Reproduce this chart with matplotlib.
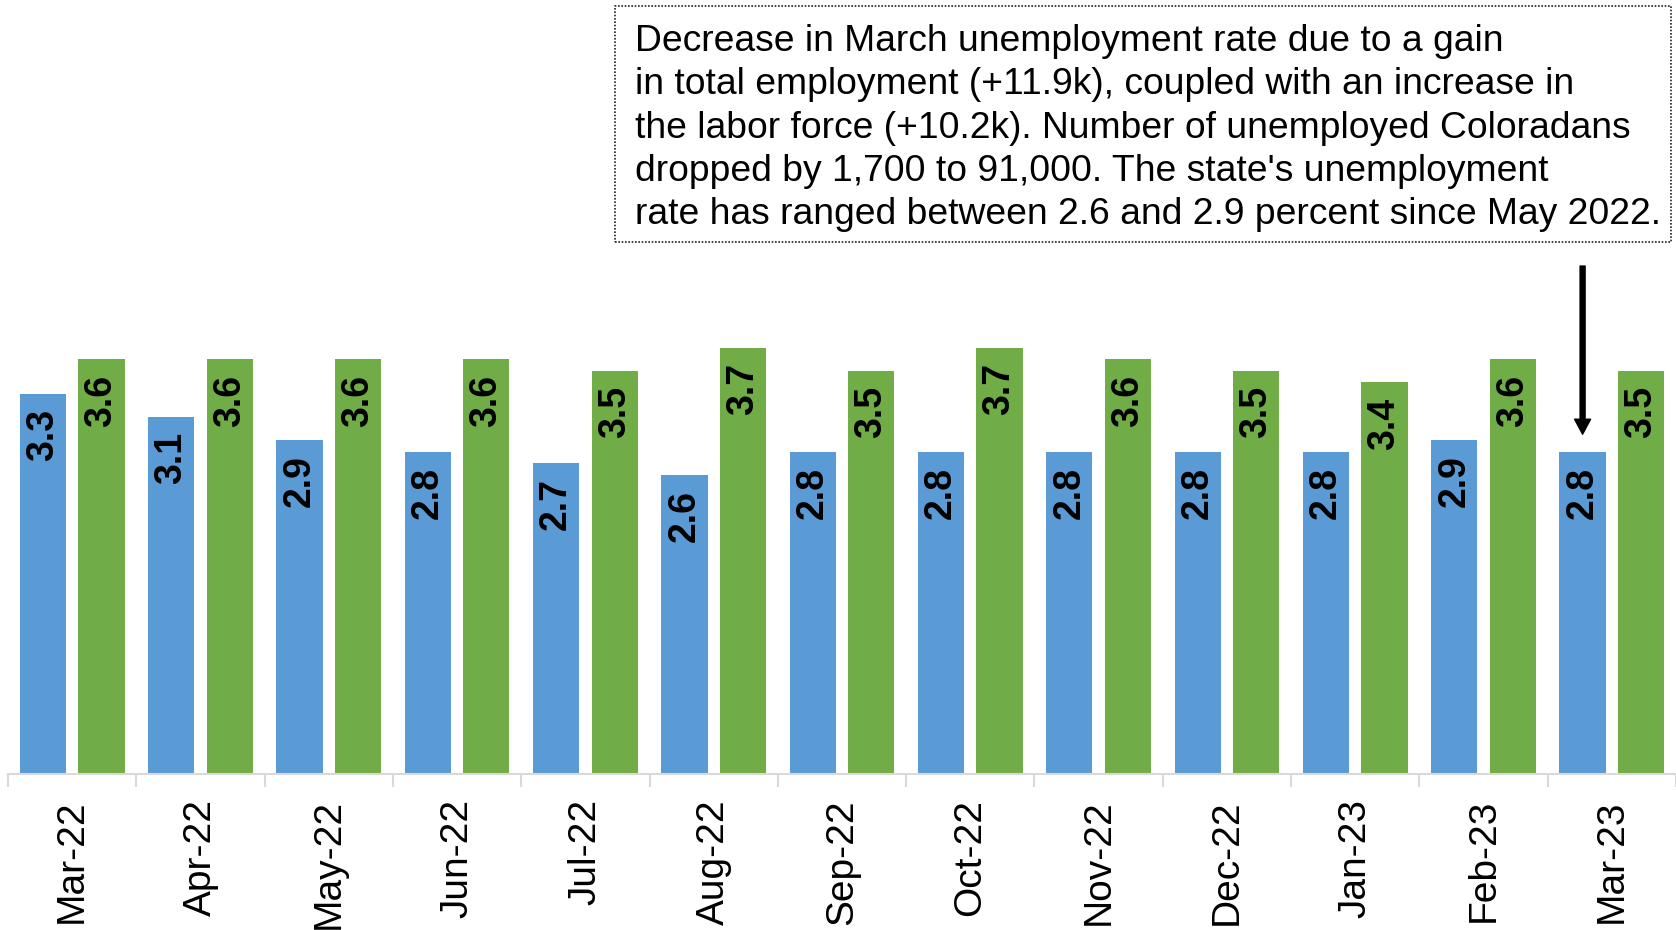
import matplotlib
matplotlib.use("Agg")
import matplotlib.pyplot as plt
import numpy as np
from matplotlib.patches import Rectangle

plt.rcParams['font.family'] = ['Liberation Sans', 'DejaVu Sans']

months = ["Mar-22", "Apr-22", "May-22", "Jun-22", "Jul-22", "Aug-22", "Sep-22",
          "Oct-22", "Nov-22", "Dec-22", "Jan-23", "Feb-23", "Mar-23"]
colorado = [3.3, 3.1, 2.9, 2.8, 2.7, 2.6, 2.8, 2.8, 2.8, 2.8, 2.8, 2.9, 2.8]
us = [3.6, 3.6, 3.6, 3.6, 3.5, 3.7, 3.5, 3.7, 3.6, 3.5, 3.4, 3.6, 3.5]
note = ("Decrease in March unemployment rate due to a gain\n"
        "in total employment (+11.9k), coupled with an increase in\n"
        "the labor force (+10.2k). Number of unemployed Coloradans\n"
        "dropped by 1,700 to 91,000. The state's unemployment\n"
        "rate has ranged between 2.6 and 2.9 percent since May 2022.")

W, H = 1676, 930
fig = plt.figure(figsize=(W / 100, H / 100), dpi=100)
ax = fig.add_axes([8 / W, 156 / H, 1668 / W, 774 / H])

x = np.arange(len(months))
off = 0.228
bw = 0.36
blue = "#5B9BD5"
green = "#70AD47"
ax.bar(x - off, colorado, bw, color=blue)
ax.bar(x + off, us, bw, color=green)

for xi, v in zip(x, colorado):
    ax.annotate(f"{v:.1f}", (xi - off, v), xytext=(0, -11), textcoords="offset points",
                rotation=90, ha="center", va="top", fontsize=27, fontweight="bold")
for xi, v in zip(x, us):
    ax.annotate(f"{v:.1f}", (xi + off, v), xytext=(0, -11), textcoords="offset points",
                rotation=90, ha="center", va="top", fontsize=27, fontweight="bold")

ax.set_xlim(-0.5, len(months) - 0.5)
ax.set_ylim(0, 6.72)
ax.set_yticks([])
for s in ["top", "left", "right"]:
    ax.spines[s].set_visible(False)
ax.spines["bottom"].set_color("#D9D9D9")
ax.spines["bottom"].set_linewidth(1.5)

ax.set_xticks(np.arange(len(months) + 1) - 0.5)
ax.set_xticklabels([])
ax.tick_params(axis="x", which="major", length=9.4, width=1.5, color="#D9D9D9")
ax.set_xticks(x, minor=True)
ax.set_xticklabels(months, minor=True, rotation=90, fontsize=28)
ax.tick_params(axis="x", which="minor", length=0, pad=18)

# annotation box
fig.patches.append(Rectangle((615 / W, 1 - 242 / H), (1671 - 615) / W, (242 - 6) / H,
                             transform=fig.transFigure, fill=False, edgecolor="#222222",
                             linestyle=(0, (1, 1)), linewidth=1.2))
fig.text(635 / W, 1 - 24 / H, note, ha="left", va="top", fontsize=26.8, linespacing=1.31)

# arrow pointing at latest Colorado bar
ax.annotate("", xy=(x[-1] - off, colorado[-1] + 0.15), xytext=(x[-1] - off, 4.41),
            arrowprops=dict(width=3.6, headwidth=11.5, headlength=10.8, shrink=0,
                            facecolor="black", edgecolor="black"))

fig.savefig("out.png", dpi=100)
